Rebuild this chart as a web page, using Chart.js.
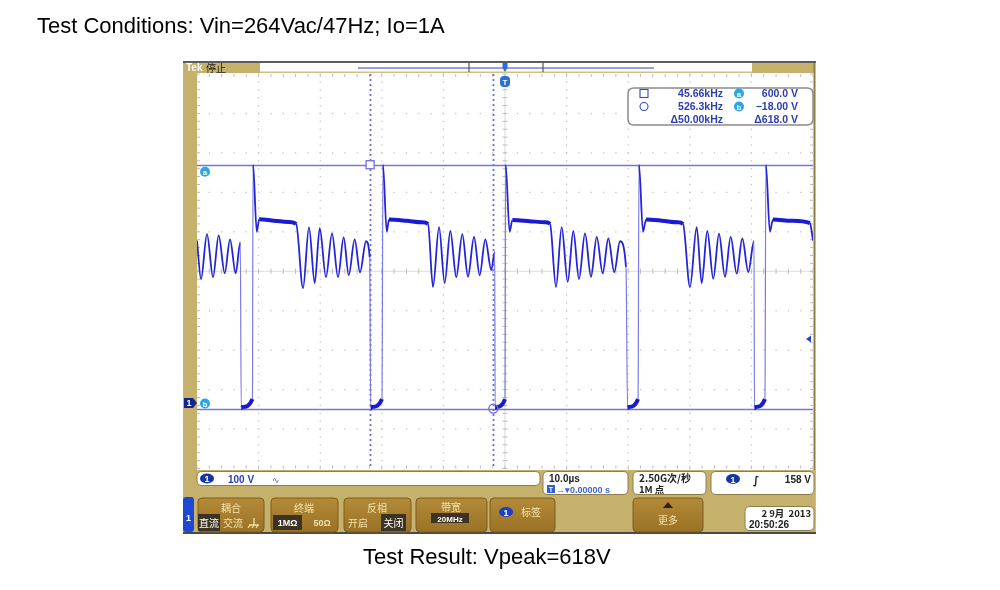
<!DOCTYPE html>
<html>
<head>
<meta charset="utf-8">
<script src="https://cdn.jsdelivr.net/npm/chart.js@4.4.1/dist/chart.umd.min.js"></script>
<style>
  html,body{margin:0;padding:0;background:#fff;width:1000px;height:590px;overflow:hidden;}
  #wrap{position:relative;width:1000px;height:590px;}
  canvas{position:absolute;left:0;top:0;}
  .cap{position:absolute;font-family:"Liberation Sans",Arial,sans-serif;font-size:22px;line-height:22px;color:#000;white-space:nowrap;}
</style>
</head>
<body>
<div id="wrap">
  <canvas id="c" width="1000" height="590"></canvas>
  <div class="cap" id="t1" style="left:37px;top:15px;">Test Conditions: Vin=264Vac/47Hz; Io=1A</div>
  <div class="cap" id="t2" style="left:363px;top:546px;">Test Result: Vpeak=618V</div>
</div>
<script>
// ---------- data ----------
// horizontal: 10 us/div, trigger at 0; vertical: 100 V/div, CH1 ground at 0 V
const timeUs = [
  -50.0, -49.35, -48.38, -47.40, -46.48, -45.50, -44.64, -43.72, -42.97,
  -42.82, -42.6, -41.0, -40.9, -40.3, -39.9, -37.5, -35.0, -33.9,
  -32.79, -31.82, -30.89, -30.08, -29.06, -28.08, -27.11, -26.19, -25.37, -24.4, -23.54, -22.56, -21.96,
  -21.8, -21.6, -19.97, -19.81, -19.2, -18.83, -16.0, -13.5, -12.5,
  -11.69, -10.71, -9.79, -8.88, -7.91, -6.93, -6.01, -5.03, -4.11, -3.2, -2.22, -1.67,
  -1.6, -1.4, 0.0, 0.1, 0.75, 1.2, 4.0, 6.5, 7.31,
  8.28, 9.2, 10.18, 11.09, 12.01, 12.99, 13.96, 14.89, 15.86, 16.77, 17.74, 18.67, 19.64,
  19.9, 20.1, 21.6, 21.75, 22.4, 22.9, 25.5, 28.0, 28.9,
  30.03, 31.12, 31.93, 32.84, 33.81, 34.74, 35.71, 36.64, 37.61, 38.52, 39.5, 40.42,
  40.5, 40.7, 42.2, 42.35, 43.0, 43.5, 46.5, 49.5, 50.0
];
const ch1Volts = [
  408, 310, 424, 315, 421, 325, 411, 325, 403,
  -17, -14, 6, 600, 430, 462, 458, 455, 450,
  287, 441, 300, 439, 315, 426, 315, 416, 320, 411, 327, 406, 365,
  -17, -14, 6, 600, 430, 461, 458, 454, 450,
  290, 442, 300, 432, 315, 424, 316, 417, 320, 411, 333, 379,
  -17, -14, 6, 600, 430, 460, 457, 454, 450,
  290, 442, 303, 432, 310, 426, 316, 417, 325, 413, 328, 406, 341,
  -17, -14, 6, 600, 430, 461, 458, 454, 450,
  290, 442, 300, 432, 311, 425, 316, 417, 324, 413, 328, 406,
  -17, -14, 6, 600, 430, 461, 458, 452, 408
];
const cursorVolts = [600, -18];          // cursor a, cursor b
const cursorTimesUs = [-21.9, -1.9];     // square cursor, circle cursor
const triggerLevelV = 158;
const triggerTimeUs = 0;
const readoutLeft = ["45.66kHz", "526.3kHz", "\u039450.00kHz"];
const readoutRight = ["600.0 V", "\u221218.00 V", "\u0394618.0 V"];
const xRangeUs = [-50, 50];
const yRangeV = [-170, 830];
const divCount = 10, subDiv = 5;

// ---------- drawing helpers ----------
const GOLD = '#c5b06c', BTN_TXT = '#f2e2a8', BLUE_TXT = '#2c3cb4';
const CJK = '"Noto Sans CJK SC", "Liberation Sans", sans-serif';
const SANS = '"Liberation Sans", Arial, sans-serif';
function rr(ctx, x, y, w, h, r) {
  ctx.beginPath();
  ctx.moveTo(x + r, y); ctx.lineTo(x + w - r, y); ctx.quadraticCurveTo(x + w, y, x + w, y + r);
  ctx.lineTo(x + w, y + h - r); ctx.quadraticCurveTo(x + w, y + h, x + w - r, y + h);
  ctx.lineTo(x + r, y + h); ctx.quadraticCurveTo(x, y + h, x, y + h - r);
  ctx.lineTo(x, y + r); ctx.quadraticCurveTo(x, y, x + r, y); ctx.closePath();
}
function txt(ctx, s, x, y, font, color, align) {
  ctx.font = font; ctx.fillStyle = color; ctx.textAlign = align || 'left'; ctx.textBaseline = 'alphabetic';
  ctx.fillText(s, x, y);
}
function oval1(ctx, cx, cy, color) {
  ctx.fillStyle = color; ctx.beginPath(); ctx.ellipse(cx, cy, 7, 5, 0, 0, Math.PI * 2); ctx.fill();
  txt(ctx, '1', cx, cy + 3.5, 'bold 9px ' + SANS, '#fff', 'center');
}
function circLetter(ctx, cx, cy, l) {
  ctx.fillStyle = '#2aa8e6'; ctx.beginPath(); ctx.arc(cx, cy, 5, 0, Math.PI * 2); ctx.fill();
  txt(ctx, l, cx, cy + 3, 'bold 8px ' + SANS, '#fff', 'center');
}
function button(ctx, x, y, w, h) {
  const g = ctx.createLinearGradient(0, y, 0, y + h);
  g.addColorStop(0, '#b38a38'); g.addColorStop(1, '#9a7226');
  ctx.fillStyle = g; rr(ctx, x, y, w, h, 4); ctx.fill();
  ctx.strokeStyle = '#7d5c1e'; ctx.lineWidth = 1; ctx.stroke();
}
function whiteBox(ctx, x, y, w, h) {
  ctx.fillStyle = '#fff'; rr(ctx, x, y, w, h, 5); ctx.fill();
  ctx.strokeStyle = '#8d7d4c'; ctx.lineWidth = 1; ctx.stroke();
}

const scopePlugin = {
  id: 'scope',
  beforeDraw(chart) {
    const ctx = chart.ctx;
    ctx.save();
    ctx.fillStyle = '#fff'; ctx.fillRect(0, 0, 1000, 590);
    ctx.fillStyle = '#5c5c5c'; ctx.fillRect(183, 61, 633, 2);
    ctx.fillStyle = GOLD;
    ctx.fillRect(183, 63, 77, 10);
    ctx.fillRect(752, 63, 63, 10);
    ctx.fillRect(183, 63, 14, 408);
    ctx.fillStyle = '#cfbf85'; ctx.fillRect(260, 71.5, 492, 1.5);
    ctx.fillStyle = '#8c7d45'; ctx.fillRect(813.5, 63, 2, 470);
    txt(ctx, 'Tek', 186, 71, 'bold 10px ' + SANS, '#fff');
    txt(ctx, '停止', 206, 71.5, '10px ' + CJK, '#1a1a1a');
    ctx.strokeStyle = '#7b7be0'; ctx.lineWidth = 1.5;
    ctx.beginPath(); ctx.moveTo(358, 68); ctx.lineTo(654, 68); ctx.stroke();
    ctx.strokeStyle = '#555'; ctx.lineWidth = 1.2;
    ctx.beginPath(); ctx.moveTo(469, 63); ctx.lineTo(469, 72); ctx.moveTo(543, 63); ctx.lineTo(543, 72); ctx.stroke();
    ctx.fillStyle = GOLD; ctx.fillRect(183, 470, 632, 63);
    ctx.fillStyle = '#4a4a4a'; ctx.fillRect(183, 532, 633, 2);
    ctx.restore();
  },
  beforeDatasetsDraw(chart) {
    const ctx = chart.ctx, xs = chart.scales.x, ys = chart.scales.y, ca = chart.chartArea;
    ctx.save();
    const xStep = (xRangeUs[1] - xRangeUs[0]) / divCount, yStep = (yRangeV[1] - yRangeV[0]) / divCount;
    const xCenter = (xRangeUs[0] + xRangeUs[1]) / 2, yCenter = (yRangeV[0] + yRangeV[1]) / 2;
    ctx.fillStyle = '#c4c4c4';
    for (let k = 1; k < divCount; k++) {
      const xv = xRangeUs[0] + k * xStep, px = xs.getPixelForValue(xv);
      const yv = yRangeV[0] + k * yStep, py = ys.getPixelForValue(yv);
      for (let j = 0; j <= divCount * subDiv; j++) {
        const py2 = ys.getPixelForValue(yRangeV[0] + j * yStep / subDiv);
        if (xv !== xCenter) ctx.fillRect(px - 0.6, py2 - 0.6, 1.3, 1.3);
        const px2 = xs.getPixelForValue(xRangeUs[0] + j * xStep / subDiv);
        if (yv !== yCenter) ctx.fillRect(px2 - 0.6, py - 0.6, 1.3, 1.3);
      }
    }
    const cx = xs.getPixelForValue(xCenter), cy = ys.getPixelForValue(yCenter);
    ctx.strokeStyle = '#dadada'; ctx.lineWidth = 1;
    ctx.beginPath(); ctx.moveTo(ca.left, cy); ctx.lineTo(ca.right, cy); ctx.moveTo(cx, ca.top); ctx.lineTo(cx, ca.bottom); ctx.stroke();
    ctx.strokeStyle = '#bcbcbc';
    ctx.beginPath();
    for (let j = 0; j <= divCount * subDiv; j++) {
      const px = xs.getPixelForValue(xRangeUs[0] + j * xStep / subDiv);
      const py = ys.getPixelForValue(yRangeV[0] + j * yStep / subDiv);
      ctx.moveTo(px, cy - 2.5); ctx.lineTo(px, cy + 2.5);
      ctx.moveTo(cx - 2.5, py); ctx.lineTo(cx + 2.5, py);
      ctx.moveTo(px, ca.top); ctx.lineTo(px, ca.top + 3);
      ctx.moveTo(px, ca.bottom); ctx.lineTo(px, ca.bottom - 3);
      ctx.moveTo(ca.left, py); ctx.lineTo(ca.left + 3, py);
      ctx.moveTo(ca.right, py); ctx.lineTo(ca.right - 3, py);
    }
    ctx.stroke();
    ctx.strokeStyle = '#7676e0'; ctx.lineWidth = 1.5;
    ctx.beginPath();
    cursorVolts.forEach(v => { const py = Math.round(ys.getPixelForValue(v)) + 0.5; ctx.moveTo(ca.left, py); ctx.lineTo(ca.right, py); });
    ctx.stroke();
    ctx.setLineDash([2, 3]); ctx.lineWidth = 1.8; ctx.strokeStyle = '#6e6ee0';
    ctx.beginPath();
    cursorTimesUs.forEach(t => { const px = Math.round(xs.getPixelForValue(t)) + 0.5; ctx.moveTo(px, ca.top); ctx.lineTo(px, ca.bottom); });
    ctx.stroke();
    ctx.setLineDash([]);
    ctx.restore();
  },
  afterDatasetsDraw(chart) {
    const ctx = chart.ctx, xs = chart.scales.x, ys = chart.scales.y, ca = chart.chartArea;
    ctx.save();
    const sqx = xs.getPixelForValue(cursorTimesUs[0]), sqy = ys.getPixelForValue(cursorVolts[0]);
    const ocx = xs.getPixelForValue(cursorTimesUs[1]), ocy = ys.getPixelForValue(cursorVolts[1]);
    ctx.strokeStyle = '#6e6ee0'; ctx.lineWidth = 1.3;
    ctx.fillStyle = '#fff'; ctx.fillRect(sqx - 4, sqy - 4, 8, 8); ctx.strokeRect(sqx - 4, sqy - 4, 8, 8);
    ctx.beginPath(); ctx.arc(ocx, ocy, 4.5, 0, Math.PI * 2); ctx.stroke();
    circLetter(ctx, ca.left + 8, ys.getPixelForValue(cursorVolts[0]) + 7, 'a');
    circLetter(ctx, ca.left + 8, ys.getPixelForValue(cursorVolts[1]) - 5, 'b');
    const gy = ys.getPixelForValue(0) + 1.5;
    ctx.fillStyle = '#14248e';
    ctx.beginPath(); ctx.moveTo(184, gy - 5); ctx.lineTo(193, gy - 5); ctx.lineTo(197, gy); ctx.lineTo(193, gy + 5); ctx.lineTo(184, gy + 5); ctx.closePath(); ctx.fill();
    txt(ctx, '1', 189, gy + 3.5, 'bold 9px ' + SANS, '#fff', 'center');
    const ty = ys.getPixelForValue(triggerLevelV);
    ctx.fillStyle = '#2a3fd0';
    ctx.beginPath(); ctx.moveTo(ca.right - 7, ty); ctx.lineTo(ca.right - 2, ty - 3.5); ctx.lineTo(ca.right - 2, ty + 3.5); ctx.closePath(); ctx.fill();
    const tx = xs.getPixelForValue(triggerTimeUs);
    ctx.fillStyle = '#2b6fd6';
    ctx.beginPath(); ctx.moveTo(tx - 2.5, 63); ctx.lineTo(tx + 2.5, 63); ctx.lineTo(tx + 2.5, 68); ctx.lineTo(tx, 72); ctx.lineTo(tx - 2.5, 68); ctx.closePath(); ctx.fill();
    rr(ctx, tx - 5, ca.top + 2, 10, 11, 4); ctx.fill();
    txt(ctx, 'T', tx, ca.top + 11, 'bold 8px ' + SANS, '#fff', 'center');
    ctx.fillStyle = 'rgba(255,255,255,0.96)'; rr(ctx, 628, 88, 185, 37, 6); ctx.fill();
    ctx.strokeStyle = '#8a8a8a'; ctx.lineWidth = 1.5; ctx.stroke();
    ctx.strokeStyle = '#3a4ab8'; ctx.lineWidth = 1.1;
    ctx.strokeRect(640, 89.5, 8, 8);
    ctx.beginPath(); ctx.arc(644, 106.5, 4, 0, Math.PI * 2); ctx.stroke();
    const rowY = [97, 110, 122.5];
    readoutLeft.forEach((s, i) => txt(ctx, s, 723, rowY[i], 'bold 10.5px ' + SANS, BLUE_TXT, 'right'));
    readoutRight.forEach((s, i) => txt(ctx, s, 798, rowY[i], 'bold 10.5px ' + SANS, BLUE_TXT, 'right'));
    circLetter(ctx, 739, 93.5, 'a');
    circLetter(ctx, 739, 106.5, 'b');

    whiteBox(ctx, 197, 471.5, 343, 14);
    oval1(ctx, 207, 478.5, '#1535a0');
    txt(ctx, '100 V', 228, 482.5, 'bold 10px ' + SANS, BLUE_TXT);
    txt(ctx, '\u223F', 272, 482.5, '9px "DejaVu Sans"', '#5060c8');
    whiteBox(ctx, 543, 471.5, 85, 23);
    txt(ctx, '10.0\u00B5s', 549, 482, 'bold 10px ' + SANS, '#222');
    ctx.fillStyle = '#2f5fd0'; ctx.fillRect(547, 485, 8, 8);
    txt(ctx, 'T', 551, 492, 'bold 7px ' + SANS, '#fff', 'center');
    txt(ctx, '\u2192\u25BE0.00000 s', 556, 492.5, 'bold 9px ' + SANS, '#3d63d0');
    whiteBox(ctx, 633, 471.5, 73, 23);
    txt(ctx, '2.50G次/秒', 639, 482, 'bold 10px ' + CJK, '#222');
    txt(ctx, '1M 点', 639, 493, 'bold 9.5px ' + CJK, '#222');
    whiteBox(ctx, 711, 471.5, 103, 23);
    oval1(ctx, 733, 479, '#1535a0');
    txt(ctx, '\u222B', 756, 484, 'bold italic 11px "DejaVu Sans"', '#222', 'center');
    txt(ctx, '158 V', 811, 483, 'bold 10px ' + SANS, '#222', 'right');

    ctx.fillStyle = '#1f47d6'; rr(ctx, 183, 497, 11, 35, 3); ctx.fill();
    txt(ctx, '1', 188.5, 521, 'bold 9px ' + SANS, '#fff', 'center');
    button(ctx, 198, 498, 66, 34);
    txt(ctx, '耦合', 231, 512, '10px ' + CJK, BTN_TXT, 'center');
    ctx.fillStyle = '#3c3322'; ctx.fillRect(198, 514, 22, 17);
    txt(ctx, '直流', 209, 527, '10px ' + CJK, '#fff', 'center');
    txt(ctx, '交流', 233, 527, '10px ' + CJK, BTN_TXT, 'center');
    ctx.strokeStyle = BTN_TXT; ctx.lineWidth = 1.3;
    ctx.beginPath(); ctx.moveTo(254, 518); ctx.lineTo(254, 525); ctx.moveTo(249, 525); ctx.lineTo(259, 525);
    ctx.moveTo(250, 525); ctx.lineTo(248, 528); ctx.moveTo(254, 525); ctx.lineTo(252, 528); ctx.moveTo(258, 525); ctx.lineTo(256, 528); ctx.stroke();

    button(ctx, 271, 498, 67, 34);
    txt(ctx, '终端', 304, 512, '10px ' + CJK, BTN_TXT, 'center');
    ctx.fillStyle = '#3c3322'; ctx.fillRect(273, 515, 29, 15);
    txt(ctx, '1M\u03A9', 287.5, 526, 'bold 9px ' + SANS, '#fff', 'center');
    txt(ctx, '50\u03A9', 322, 526, 'bold 9px ' + SANS, BTN_TXT, 'center');

    button(ctx, 344, 498, 67, 34);
    txt(ctx, '反相', 377, 512, '10px ' + CJK, BTN_TXT, 'center');
    txt(ctx, '开启', 358, 527, '10px ' + CJK, BTN_TXT, 'center');
    ctx.fillStyle = '#3c3322'; ctx.fillRect(381, 514, 25, 17);
    txt(ctx, '关闭', 393.5, 527, '10px ' + CJK, '#fff', 'center');

    button(ctx, 416, 498, 71, 34);
    txt(ctx, '带宽', 451, 511, '10px ' + CJK, BTN_TXT, 'center');
    ctx.fillStyle = '#3c3322'; ctx.fillRect(431, 513, 38, 10);
    txt(ctx, '20MHz', 450, 521.5, 'bold 8px ' + SANS, '#fff', 'center');

    button(ctx, 490, 498, 65, 34);
    oval1(ctx, 506, 512, '#1b3fc9');
    txt(ctx, '标签', 531, 516, '10px ' + CJK, BTN_TXT, 'center');

    button(ctx, 633, 498, 70, 34);
    ctx.fillStyle = '#2e2410';
    ctx.beginPath(); ctx.moveTo(663, 508); ctx.lineTo(668, 502); ctx.lineTo(673, 508); ctx.closePath(); ctx.fill();
    txt(ctx, '更多', 668, 524, '10px ' + CJK, BTN_TXT, 'center');

    whiteBox(ctx, 745, 506.5, 69, 24);
    txt(ctx, '2 9月  2013', 811, 517, 'bold 9.5px ' + CJK, '#222', 'right');
    txt(ctx, '20:50:26', 749, 528, 'bold 10px ' + SANS, '#222');
    ctx.restore();
  }
};

function segSlope(c) {
  const dx = Math.abs(c.p1.parsed.x - c.p0.parsed.x) || 1e-6;
  return Math.abs(c.p1.parsed.y - c.p0.parsed.y) / dx;
}

new Chart(document.getElementById('c'), {
  type: 'line',
  data: {
    datasets: [{
      label: 'CH1',
      data: timeUs.map((t, i) => ({ x: t, y: ch1Volts[i] })),
      borderColor: '#2424d8',
      borderWidth: 1.7,
      pointRadius: 0,
      cubicInterpolationMode: 'monotone',
      fill: false,
      segment: {
        borderWidth: c => { const s = segSlope(c); return s < 30 ? 4 : (s > 1000 ? 1.2 : 1.8); },
        borderColor: c => { const s = segSlope(c); return s > 1000 ? '#7a7ae6' : (s < 30 ? '#1a1ad0' : '#2424d8'); }
      }
    }]
  },
  options: {
    responsive: false,
    animation: false,
    devicePixelRatio: 1,
    layout: { padding: { left: 197, right: 187, top: 74, bottom: 121.5 } },
    plugins: { legend: { display: false }, tooltip: { enabled: false }, title: { display: false } },
    scales: {
      x: { type: 'linear', min: xRangeUs[0], max: xRangeUs[1], display: false },
      y: { type: 'linear', min: yRangeV[0], max: yRangeV[1], display: false }
    }
  },
  plugins: [scopePlugin]
});
</script>
</body>
</html>
